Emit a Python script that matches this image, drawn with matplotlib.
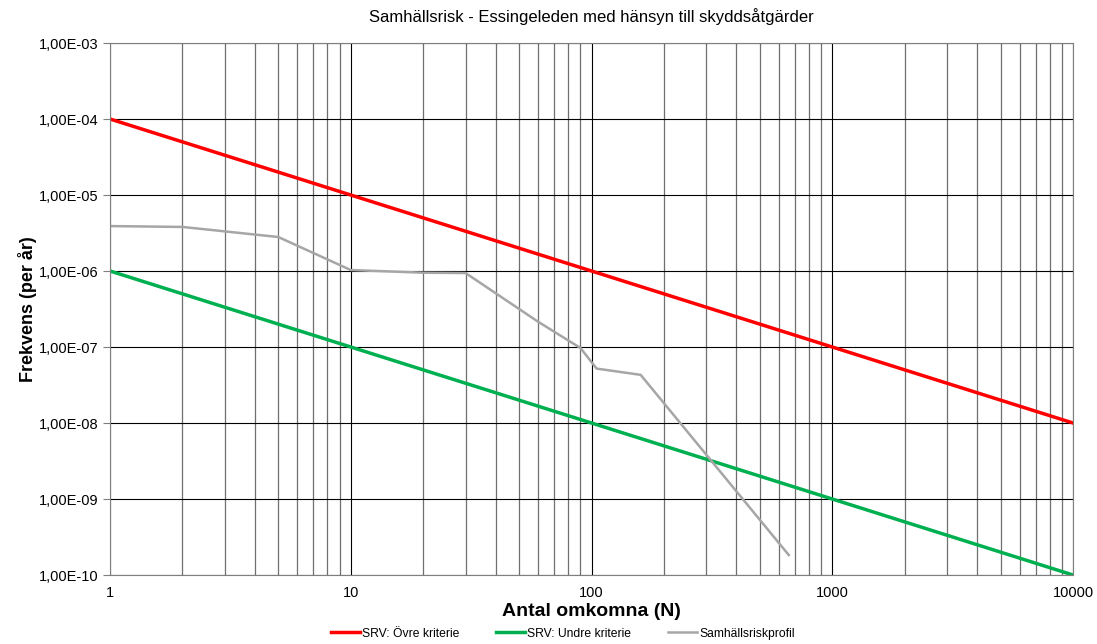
import numpy as np
import matplotlib.pyplot as plt
from matplotlib.ticker import FixedLocator, FuncFormatter, NullFormatter

plt.rcParams['font.family'] = ['Liberation Sans', 'DejaVu Sans']

# criteria lines (N, frequency)
n_crit = [1, 10000]
upper = [1e-4, 1e-8]
lower = [1e-6, 1e-10]

# societal risk profile
n_prof = [1, 2, 5, 10, 20, 30, 60, 90, 105, 160, 660]
f_prof = [3.9e-6, 3.8e-6, 2.8e-6, 1.03e-6, 9.5e-7, 9.4e-7, 2.15e-7, 9.7e-8, 5.2e-8, 4.3e-8, 1.83e-10]

fig = plt.figure(figsize=(10.97, 6.44), dpi=100)
ax = fig.add_axes([110 / 1097, 1 - 575 / 644, (1073 - 110) / 1097, (575 - 43) / 644])

ax.plot(n_crit, upper, color='#ff0000', lw=2.5, label='SRV: Övre kriterie')
ax.plot(n_crit, lower, color='#00b050', lw=2.5, label='SRV: Undre kriterie')
ax.plot(n_prof, f_prof, color='#a6a6a6', lw=1.8, label='Samhällsriskprofil')

ax.set_xscale('log')
ax.set_yscale('log')
ax.set_xlim(1, 10000)
ax.set_ylim(1e-10, 1e-3)

ax.xaxis.set_major_locator(FixedLocator([1, 10, 100, 1000, 10000]))
ax.xaxis.set_minor_locator(FixedLocator([m * 10 ** e for e in range(4) for m in range(2, 10)]))
ax.xaxis.set_major_formatter(FuncFormatter(lambda v, p: '%d' % round(v)))
ax.xaxis.set_minor_formatter(NullFormatter())
ax.yaxis.set_major_locator(FixedLocator([10.0 ** e for e in range(-10, -2)]))
ax.yaxis.set_minor_locator(FixedLocator([]))
ax.yaxis.set_major_formatter(FuncFormatter(lambda v, p: ('%.2E' % v).replace('.', ',')))

ax.grid(True, which='major', color='black', lw=0.8)
ax.grid(True, which='minor', axis='x', color='#6f6f6f', lw=0.9)
ax.set_axisbelow(True)

ax.tick_params(axis='both', which='major', labelsize=10.5, length=5, color='#7f7f7f')
ax.tick_params(axis='x', which='both', length=0, pad=8)
for s in ax.spines.values():
    s.set_color('#7f7f7f')

ax.set_title('Samhällsrisk - Essingeleden med hänsyn till skyddsåtgärder', fontsize=12, pad=15)
ax.set_xlabel('Antal omkomna (N)', fontsize=14, fontweight='bold', labelpad=2)
ax.set_ylabel('Frekvens (per år)', fontsize=13, fontweight='bold', labelpad=1)

fig.legend(loc='lower center', ncol=3, frameon=False, fontsize=8.7,
           bbox_to_anchor=(0.513, -0.01), handlelength=2.4, handletextpad=0.2,
           columnspacing=3.0)

fig.savefig('out.png', dpi=100)
